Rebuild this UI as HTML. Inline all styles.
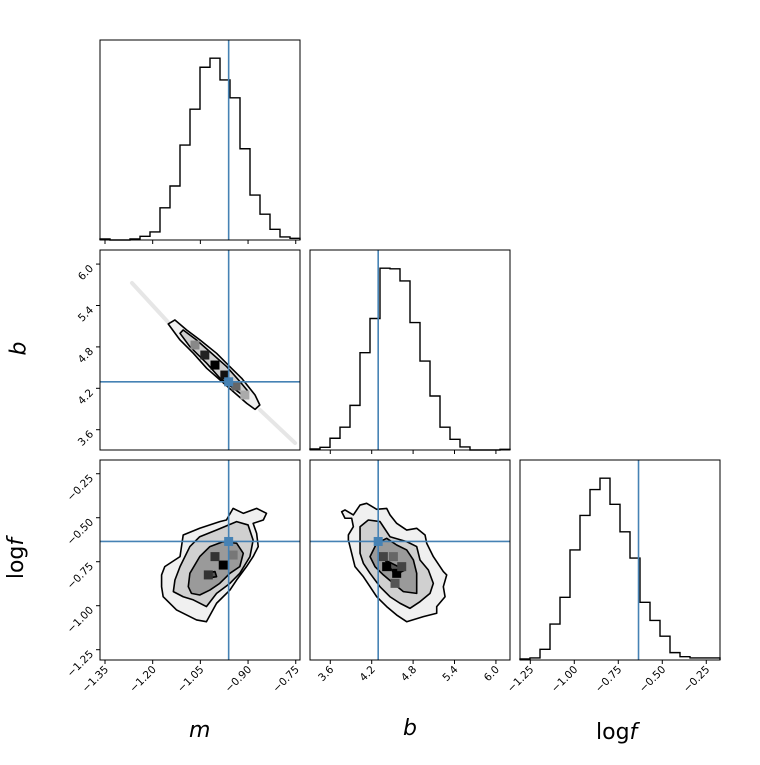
<!DOCTYPE html>
<html><head><meta charset="utf-8"><style>
body{margin:0;background:#fff}
svg text{font-family:"DejaVu Sans","Liberation Sans",sans-serif}
</style></head><body>
<svg id="c" width="760" height="760" xmlns="http://www.w3.org/2000/svg"></svg>
<script>
// ---------- data ----------
const mCounts=[3,0,0,3,11,24,96,161,283,390,515,542,477,424,272,134,77,32,9,5];
const bCounts=[3,8,35,68,133,290,392,542,540,504,380,265,161,68,32,9,0,0,0,2];
const fCounts=[3,6,32,107,187,328,431,508,542,464,382,304,172,118,71,22,10,6,6,6];
const mRange=[-1.3657,-0.7366];
const bRange=[3.306,6.204];
const fRange=[-1.3085,-0.172];
const truth=[-0.961,4.294,-0.635];
const mTicks=[-1.35,-1.20,-1.05,-0.90,-0.75];
const bTicks=[3.6,4.2,4.8,5.4,6.0];
const fTicks=[-1.25,-1.00,-0.75,-0.50,-0.25];
const mTickLabels=["\u22121.35","\u22121.20","\u22121.05","\u22120.90","\u22120.75"];
const bTickLabels=["3.6","4.2","4.8","5.4","6.0"];
const fTickLabels=["\u22121.25","\u22121.00","\u22120.75","\u22120.50","\u22120.25"];
// m-b panel
const mbOuter=[[-1.151,5.132],[-1.130,5.190],[-1.093,5.045],[-1.051,4.900],[-0.999,4.707],[-0.952,4.490],[-0.920,4.345],[-0.878,4.103],[-0.863,3.958],[-0.878,3.895],[-0.904,3.982],[-0.946,4.150],[-0.988,4.320],[-1.030,4.490],[-1.072,4.707],[-1.114,4.900]];
const mbInner=[[-1.114,4.997],[-1.104,5.045],[-1.062,4.900],[-1.020,4.730],[-0.967,4.513],[-0.925,4.295],[-0.899,4.150],[-0.910,4.078],[-0.946,4.200],[-0.988,4.345],[-1.030,4.562],[-1.083,4.803]];
const mbCells=[[-1.004,4.537,"#000"],[-1.036,4.682,"#222"],[-1.067,4.827,"#888"],[-0.973,4.392,"#111"],[-0.938,4.233,"#666"],[-0.910,4.103,"#aaa"]];
const mbTails=[[[-1.265,5.726],[-1.152,5.161]],[[-0.862,3.885],[-0.752,3.407]]];
// m-logf panel
const mfOuter=[[-1.172,-0.825],[-1.162,-0.778],[-1.114,-0.721],[-1.104,-0.598],[-1.052,-0.560],[-0.989,-0.522],[-0.968,-0.513],[-0.947,-0.447],[-0.915,-0.475],[-0.873,-0.447],[-0.842,-0.475],[-0.852,-0.513],[-0.884,-0.532],[-0.873,-0.589],[-0.868,-0.664],[-0.884,-0.721],[-0.905,-0.778],[-0.936,-0.854],[-0.957,-0.911],[-0.999,-0.986],[-1.031,-1.091],[-1.062,-1.081],[-1.125,-1.024],[-1.167,-0.949],[-1.172,-0.892]];
const mfMiddle=[[-1.135,-0.920],[-1.130,-0.854],[-1.114,-0.778],[-1.083,-0.664],[-1.052,-0.608],[-0.999,-0.570],[-0.936,-0.522],[-0.900,-0.541],[-0.884,-0.627],[-0.894,-0.721],[-0.926,-0.816],[-0.957,-0.873],[-0.999,-0.930],[-1.031,-1.005],[-1.072,-0.967],[-1.104,-0.949]];
const mfInner=[[-1.088,-0.892],[-1.083,-0.816],[-1.052,-0.721],[-1.020,-0.664],[-0.978,-0.636],[-0.936,-0.645],[-0.915,-0.702],[-0.926,-0.778],[-0.957,-0.816],[-0.989,-0.873],[-1.020,-0.911],[-1.052,-0.939],[-1.078,-0.930]];
const mfCore=[[-1.036,-0.816],[-1.004,-0.806],[-0.999,-0.835],[-1.031,-0.844]];
const mfCells=[[-0.978,-0.769,"#000"],[-1.004,-0.721,"#333"],[-1.025,-0.825,"#333"],[-0.947,-0.712,"#777"]];
// b-logf panel
const bfOuter=[[3.765,-0.466],[3.813,-0.456],[3.934,-0.484],[4.031,-0.428],[4.127,-0.418],[4.272,-0.452],[4.417,-0.447],[4.465,-0.484],[4.562,-0.532],[4.707,-0.570],[4.852,-0.560],[4.973,-0.598],[4.997,-0.645],[5.093,-0.721],[5.238,-0.806],[5.287,-0.825],[5.238,-0.892],[5.263,-0.949],[5.142,-1.005],[5.142,-1.043],[4.949,-1.062],[4.707,-1.091],[4.562,-1.053],[4.417,-1.005],[4.272,-0.949],[4.176,-0.892],[4.079,-0.835],[3.958,-0.778],[3.910,-0.702],[3.862,-0.627],[3.862,-0.598],[3.934,-0.551],[3.910,-0.503],[3.813,-0.503]];
const bfMiddle=[[4.031,-0.551],[4.151,-0.513],[4.320,-0.522],[4.465,-0.608],[4.707,-0.636],[4.852,-0.664],[4.900,-0.740],[5.021,-0.797],[5.093,-0.873],[5.045,-0.930],[4.900,-0.977],[4.755,-1.015],[4.610,-0.986],[4.465,-0.949],[4.320,-0.892],[4.176,-0.816],[4.079,-0.759],[4.031,-0.702],[4.031,-0.627]];
const bfInner=[[4.176,-0.721],[4.272,-0.645],[4.417,-0.617],[4.562,-0.655],[4.707,-0.683],[4.804,-0.740],[4.852,-0.816],[4.852,-0.930],[4.659,-0.920],[4.514,-0.873],[4.369,-0.825],[4.248,-0.778]];
const bfCore=[[4.393,-0.740],[4.683,-0.797],[4.538,-0.825]];
const bfCells=[[4.417,-0.778,"#000"],[4.562,-0.816,"#000"],[4.369,-0.721,"#444"],[4.635,-0.778,"#444"],[4.514,-0.721,"#666"],[4.538,-0.873,"#555"]];

// ---------- drawing ----------
const NS="http://www.w3.org/2000/svg";
const svg=document.getElementById('c');
const BLUE="#4682b4";
function el(tag,attrs,parent){const e=document.createElementNS(NS,tag);for(const k in attrs)e.setAttribute(k,attrs[k]);(parent||svg).appendChild(e);return e;}
const cols=[100,310,520], rows=[40,250,460], S=200;
const ranges=[mRange,bRange,fRange];
function sx(i,v){const r=ranges[i];return cols[i]+(v-r[0])/(r[1]-r[0])*S;}
function sy(j,v){const r=ranges[j];return rows[j]+S-(v-r[0])/(r[1]-r[0])*S;}

function hist(i,counts,name){
  const g=el('g',{});
  
  
  const r=ranges[i],n=counts.length,w=(r[1]-r[0])/n;
  const ymax=Math.max(...counts)*1.1;
  const by=rows[i]+S;
  let d='M'+sx(i,r[0])+','+by;
  counts.forEach((c,k)=>{const y=by-c/ymax*S;d+=' L'+sx(i,r[0]+k*w)+','+y+' L'+sx(i,r[0]+(k+1)*w)+','+y;});
  d+=' L'+sx(i,r[1])+','+by;
  const p=el('path',{d:d,fill:'none',stroke:'#000','stroke-width':1.4},g);
  
  
  const l=el('line',{x1:sx(i,truth[i]),x2:sx(i,truth[i]),y1:rows[i],y2:by,stroke:BLUE,'stroke-width':1.6},g);
  
  
}
function poly(i,j,pts,fill,g,name){
  const d='M'+pts.map(p=>sx(i,p[0])+','+sy(j,p[1])).join(' L')+' Z';
  const p=el('path',{d:d,fill:fill,stroke:'#000','stroke-width':1.6,'stroke-linejoin':'round'},g);
  
  
}
function panel2d(i,j,name,levels,cells,tails){
  const g=el('g',{});
  
  
  const clip=el('clipPath',{id:'cl'+name},g);
  el('rect',{x:cols[i],y:rows[j],width:S,height:S},clip);
  const gg=el('g',{'clip-path':'url(#cl'+name+')'},g);
  if(tails)tails.forEach(t=>{const l=el('line',{x1:sx(i,t[0][0]),y1:sy(j,t[0][1]),x2:sx(i,t[1][0]),y2:sy(j,t[1][1]),stroke:'#e6e6e6','stroke-width':4,'stroke-linecap':'round'},gg);
    
    });
  const fills=['#f0f0f0','#d0d0d0','#9a9a9a','#555'];
  levels.forEach((pts,k)=>poly(i,j,pts,fills[k],gg,name+'-contour-'+k));
  cells.forEach(c=>{const x=sx(i,c[0]),y=sy(j,c[1]);const r=el('rect',{x:x-4.5,y:y-4.5,width:9,height:9,fill:c[2]},gg);
    
    });
  const vx=sx(i,truth[i]),hy=sy(j,truth[j]);
  const a=el('line',{x1:vx,x2:vx,y1:rows[j],y2:rows[j]+S,stroke:BLUE,'stroke-width':1.6},gg);
  
  
  const b=el('line',{x1:cols[i],x2:cols[i]+S,y1:hy,y2:hy,stroke:BLUE,'stroke-width':1.6},gg);
  
  
  const m=el('rect',{x:vx-4.5,y:hy-4.5,width:9,height:9,fill:BLUE},gg);
  
  
}
function frame(i,j){
  const r=el('rect',{x:cols[i],y:rows[j],width:S,height:S,fill:'none',stroke:'#000','stroke-width':1});
  
  
}
const allTicks=[mTicks,bTicks,fTicks], allLabels=[mTickLabels,bTickLabels,fTickLabels];
function xticks(i,j,labels){
  const by=rows[j]+S;
  allTicks[i].forEach((t,k)=>{const x=sx(i,t);
    const l=el('line',{x1:x,x2:x,y1:by,y2:by+4,stroke:'#000','stroke-width':1});
    
    
    if(labels){const tx=el('text',{x:x+4,y:by+10,'font-size':10.5,'text-anchor':'end',transform:'rotate(-45 '+(x+4)+' '+(by+10)+')'});
      tx.textContent=allLabels[i][k];
      
      }
  });
}
function yticks(i,j){
  const lx=cols[i];
  allTicks[j].forEach((t,k)=>{const y=sy(j,t);
    const l=el('line',{x1:lx-4,x2:lx,y1:y,y2:y,stroke:'#000','stroke-width':1});
    
    
    const tx=el('text',{x:lx-6,y:y+5,'font-size':10.5,'text-anchor':'end',transform:'rotate(-45 '+(lx-6)+' '+(y+5)+')'});
    tx.textContent=allLabels[j][k];
    
    
  });
}
hist(0,mCounts,'hist-m');
hist(1,bCounts,'hist-b');
hist(2,fCounts,'hist-logf');
panel2d(0,1,'panel-m-b',[mbOuter,mbInner],mbCells,mbTails);
panel2d(0,2,'panel-m-logf',[mfOuter,mfMiddle,mfInner,mfCore],mfCells,null);
panel2d(1,2,'panel-b-logf',[bfOuter,bfMiddle,bfInner,bfCore],bfCells,null);
[[0,0],[1,1],[2,2],[0,1],[0,2],[1,2]].forEach(p=>frame(p[0],p[1]));
xticks(0,0,false);xticks(1,1,false);
xticks(0,2,true);xticks(1,2,true);xticks(2,2,true);
yticks(0,1);yticks(0,2);
</script>
<div style="position:absolute;left:0;top:0;width:760px;height:760px;pointer-events:none;font-family:'DejaVu Sans','Liberation Sans',sans-serif;font-size:22px">
<div style="position:absolute;left:189px;top:718px;font-style:italic">m</div>
<div style="position:absolute;left:403px;top:716px;font-style:italic">b</div>
<div style="position:absolute;left:596px;top:720px">log<i>f</i></div>
<div style="position:absolute;left:12px;top:336px;transform:rotate(-90deg);font-style:italic">b</div>
<div style="position:absolute;left:-4px;top:546px;transform:rotate(-90deg)">log<i>f</i></div>
</div>
</body></html>
